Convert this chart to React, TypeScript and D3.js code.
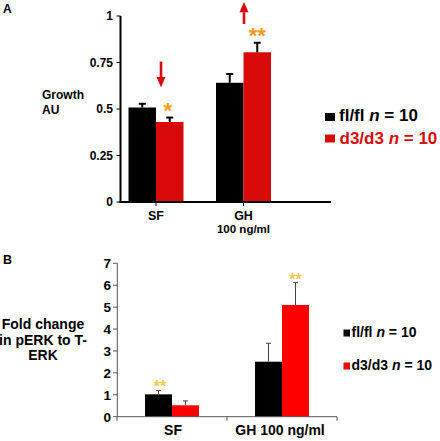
import React from 'react';
import * as d3 from 'd3';

// ---------- Data ----------
const categories = ['SF', 'GH'];
const series = ['fl/fl', 'd3/d3'];

// Panel A: Growth (AU)
const growthFlfl = [0.508, 0.641];
const growthFlflErr = [0.02, 0.047];
const growthD3d3 = [0.43, 0.805];
const growthD3d3Err = [0.024, 0.051];
const growthSig = ['*', '**'];
const growthArrows = ['down', 'up'];
const ticksA = [0, 0.25, 0.5, 0.75, 1];
const tickLabelsA = ['0', '0.25', '0.5', '0.75', '1'];

// Panel B: Fold change in pERK to T-ERK
const perkFlfl = [1.02, 2.51];
const perkFlflErr = [0.17, 0.84];
const perkD3d3 = [0.52, 5.1];
const perkD3d3Err = [0.2, 1.02];
const perkSigFlfl = ['**', ''];
const perkSigD3d3 = ['', '**'];
const ticksB = [0, 1, 2, 3, 4, 5, 6, 7];

const FONT = "'Liberation Sans', Arial, Helvetica, sans-serif";
const RED_A = '#d80a0a';
const RED_B = '#ff0000';
const ORANGE = '#f39a1e';
const YELLOW = '#f7c84a';

export default function App() {
  // ---------- Panel A scales ----------
  const yA = d3.scaleLinear().domain([0, 1]).range([202, 16]);
  const xA = d3.scalePoint<string>().domain(categories).range([156, 243.5]);
  const innerA = d3.scaleBand<string>().domain(series).range([-27.5, 27.5]);
  const axisAx0 = 120.5;
  const axisAx1 = 331;

  // ---------- Panel B scales ----------
  const yB = d3.scaleLinear().domain([0, 7]).range([416.7, 263.3]);
  const xB = d3.scaleBand<string>().domain(categories).range([117, 337]).padding(0);
  const innerB = d3.scaleBand<string>().domain(series).range([-27, 27]);

  const arrowLen = 0.125;

  return (
    <svg
      width={440}
      height={441}
      style={{ position: 'absolute', left: 0, top: 0, background: '#fff' }}
      fontFamily={FONT}
    >
      <rect width={440} height={441} fill="#fff" />
      {/* ================= PANEL A ================= */}
      <text x={3} y={12.5} fontSize={12} fontWeight="bold">A</text>
      <text x={42} y={99} fontSize={12} fontWeight="bold">Growth</text>
      <text x={42} y={114} fontSize={12} fontWeight="bold">AU</text>

      {/* y ticks */}
      {ticksA.map((t, i) => (
        <g key={'ta' + i}>
          <line x1={axisAx0 - 4} x2={axisAx0} y1={yA(t)} y2={yA(t)} stroke="#000" strokeWidth={1} />
          <text x={113} y={yA(t)} dy="0.35em" fontSize={12} fontWeight="bold" textAnchor="end">
            {tickLabelsA[i]}
          </text>
        </g>
      ))}

      {/* bars */}
      {categories.map((c, i) => {
        const cx = xA(c)!;
        const bw = innerA.bandwidth();
        const xb = cx + innerA('fl/fl')!;
        const xr = cx + innerA('d3/d3')!;
        return (
          <g key={'ba' + c}>
            <rect x={xb} y={yA(growthFlfl[i])} width={bw} height={yA(0) - yA(growthFlfl[i])} fill="#000" />
            <rect x={xr} y={yA(growthD3d3[i])} width={bw} height={yA(0) - yA(growthD3d3[i])} fill={RED_A} />
            {/* error bars */}
            {[
              [xb + bw / 2, growthFlfl[i], growthFlflErr[i]],
              [xr + bw / 2, growthD3d3[i], growthD3d3Err[i]],
            ].map(([ex, v, e], k) => (
              <g key={k} stroke="#000" strokeWidth={2}>
                <line x1={ex} x2={ex} y1={yA(v)} y2={yA(v + e)} />
                <line x1={ex - 3.5} x2={ex + 3.5} y1={yA(v + e)} y2={yA(v + e)} />
              </g>
            ))}
            {/* significance */}
            <text
              x={xr + bw / 2 - (i === 0 ? 2 : 0)}
              y={yA(growthD3d3[i] + growthD3d3Err[i]) + 0.5}
              fontSize={22}
              fontWeight="bold"
              fill={ORANGE}
              textAnchor="middle"
            >
              {growthSig[i]}
            </text>
          </g>
        );
      })}

      {/* arrows */}
      {categories.map((c, i) => {
        const ax = xA(c)! + (i === 0 ? 5 : 0.5);
        if (growthArrows[i] === 'down') {
          const top = 0.755;
          const tip = top - arrowLen - 0.013;
          const headBase = tip + 0.055;
          return (
            <g key={'ar' + i} fill={RED_A} stroke="none">
              <rect x={ax - 1.3} y={yA(top)} width={2.6} height={yA(headBase) - yA(top)} />
              <path d={`M${ax - 4.5},${yA(headBase)} L${ax + 4.5},${yA(headBase)} L${ax},${yA(tip)} Z`} />
            </g>
          );
        }
        const bottom = 0.957;
        const tip = bottom + arrowLen - 0.007;
        const headBase = tip - 0.055;
        return (
          <g key={'ar' + i} fill={RED_A} stroke="none">
            <rect x={ax - 1.3} y={yA(headBase)} width={2.6} height={yA(bottom) - yA(headBase)} />
            <path d={`M${ax - 4.5},${yA(headBase)} L${ax + 4.5},${yA(headBase)} L${ax},${yA(tip)} Z`} />
          </g>
        );
      })}

      {/* axes A */}
      <line x1={axisAx0} x2={axisAx0} y1={yA(1)} y2={yA(0) + 1} stroke="#000" strokeWidth={2} />
      <line x1={axisAx0 - 1} x2={axisAx1} y1={yA(0)} y2={yA(0)} stroke="#000" strokeWidth={2} />
      {categories.map((c) => (
        <line key={'xta' + c} x1={xA(c)!} x2={xA(c)!} y1={yA(0)} y2={yA(0) + 4} stroke="#000" strokeWidth={1} />
      ))}
      <text x={xA('SF')!} y={220} fontSize={12.5} fontWeight="bold" textAnchor="middle">SF</text>
      <text x={xA('GH')!} y={220} fontSize={12.5} fontWeight="bold" textAnchor="middle">GH</text>
      <text x={xA('GH')!} y={232.5} fontSize={11.5} fontWeight="bold" textAnchor="middle">100 ng/ml</text>

      {/* legend A */}
      <rect x={325} y={113} width={10} height={8} fill="#000" />
      <text x={339} y={121} fontSize={17} fontWeight="bold" fill="#000">
        fl/fl <tspan fontStyle="italic">n</tspan> = 10
      </text>
      <rect x={325} y={134.5} width={10} height={8} fill={RED_A} />
      <text x={339.5} y={143.5} fontSize={17} fontWeight="bold" fill={RED_A}>
        d3/d3 <tspan fontStyle="italic">n</tspan> = 10
      </text>

      {/* ================= PANEL B ================= */}
      <text x={3} y={264} fontSize={12.5} fontWeight="bold">B</text>
      <text x={43} y={329} fontSize={14} fontWeight="bold" textAnchor="middle">Fold change</text>
      <text x={43} y={344.5} fontSize={14} fontWeight="bold" textAnchor="middle">in pERK to T-</text>
      <text x={43} y={360} fontSize={14} fontWeight="bold" textAnchor="middle">ERK</text>

      {ticksB.map((t) => (
        <g key={'tb' + t}>
          <line x1={113} x2={117.3} y1={yB(t)} y2={yB(t)} stroke="#555" strokeWidth={1} />
          <text x={111} y={yB(t)} dy="0.36em" fontSize={13.5} fontWeight="bold" textAnchor="end">
            {t}
          </text>
        </g>
      ))}

      {categories.map((c, i) => {
        const x0 = xB(c)! + xB.bandwidth() / 2;
        const bw = innerB.bandwidth();
        const xb = x0 + innerB('fl/fl')!;
        const xr = x0 + innerB('d3/d3')!;
        return (
          <g key={'bb' + c}>
            <rect x={xb} y={yB(perkFlfl[i])} width={bw} height={yB(0) - yB(perkFlfl[i])} fill="#000" />
            <rect x={xr} y={yB(perkD3d3[i])} width={bw} height={yB(0) - yB(perkD3d3[i])} fill={RED_B} />
            {[
              [xb + bw / 2, perkFlfl[i], perkFlflErr[i]],
              [xr + bw / 2, perkD3d3[i], perkD3d3Err[i]],
            ].map(([ex, v, e], k) => (
              <g key={k} stroke="#444" strokeWidth={1}>
                <line x1={ex} x2={ex} y1={yB(v)} y2={yB(v + e)} />
                <line x1={ex - 2.5} x2={ex + 2.5} y1={yB(v + e)} y2={yB(v + e)} />
              </g>
            ))}
            {perkSigFlfl[i] && (
              <text x={xb + bw / 2 + 1.5} y={yB(perkFlfl[i] + perkFlflErr[i]) + 1.5} fontSize={16} fontWeight="bold" fill={YELLOW} textAnchor="middle">
                {perkSigFlfl[i]}
              </text>
            )}
            {perkSigD3d3[i] && (
              <text x={xr + bw / 2} y={yB(perkD3d3[i] + perkD3d3Err[i]) + 2.5} fontSize={16} fontWeight="bold" fill={YELLOW} textAnchor="middle">
                {perkSigD3d3[i]}
              </text>
            )}
          </g>
        );
      })}

      {/* axes B */}
      <line x1={117.3} x2={117.3} y1={yB(7)} y2={yB(0)} stroke="#555" strokeWidth={1} />
      <line x1={117.3} x2={337} y1={yB(0)} y2={yB(0)} stroke="#555" strokeWidth={1} />
      {[...categories.map((c) => xB(c)!), 337].map((tx, k) => (
        <line key={'xtb' + k} x1={tx} x2={tx} y1={yB(0)} y2={yB(0) + 4} stroke="#555" strokeWidth={1} />
      ))}
      <text x={xB('SF')! + xB.bandwidth() / 2 + 1} y={435} fontSize={14} fontWeight="bold" textAnchor="middle">SF</text>
      <text x={xB('GH')! + xB.bandwidth() / 2 - 2} y={435} fontSize={14} fontWeight="bold" textAnchor="middle">GH 100 ng/ml</text>

      {/* legend B */}
      <rect x={343.5} y={329.5} width={6.5} height={7} fill="#000" />
      <text x={351.5} y={336.5} fontSize={14} fontWeight="bold">
        fl/fl <tspan fontStyle="italic">n</tspan> = 10
      </text>
      <rect x={343.5} y={362.5} width={6.5} height={7} fill={RED_B} />
      <text x={351.5} y={369.5} fontSize={14} fontWeight="bold">
        d3/d3 <tspan fontStyle="italic">n</tspan> = 10
      </text>
    </svg>
  );
}
